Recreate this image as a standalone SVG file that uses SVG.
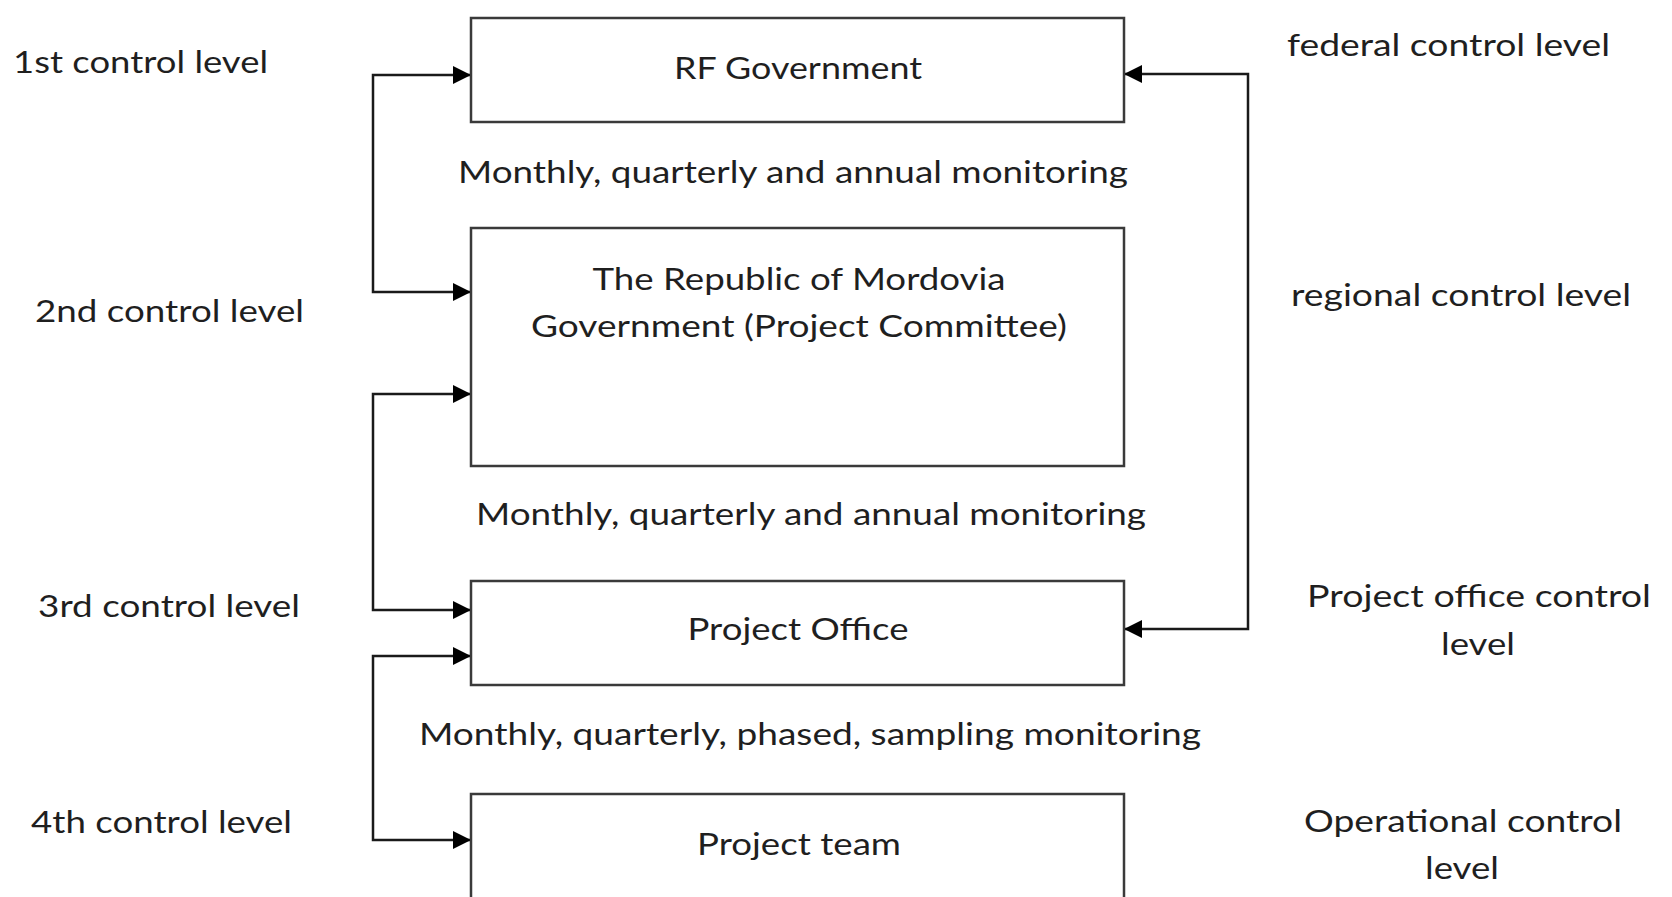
<svg xmlns="http://www.w3.org/2000/svg" width="1672" height="897" viewBox="0 0 1672 897">
<style>
.box{fill:#fff;stroke:#3a3a3a;stroke-width:2.5}
.t{font-family:Lato,"Open Sans","Liberation Sans",sans-serif;font-size:30px;fill:#1f1f1f}
.m{text-anchor:middle}
.c{fill:none;stroke:#1a1a1a;stroke-width:2.5}
</style>
<defs>
<marker id="ah" markerUnits="userSpaceOnUse" markerWidth="19" markerHeight="18" refX="18" refY="9" orient="auto-start-reverse">
<path d="M0,0 L18,9 L0,18 z" fill="#000"/>
</marker>
</defs>
<rect width="1672" height="897" fill="#fff"/>
<g id="connectors">
<path class="c" d="M471,75 H373 V292 H471" marker-start="url(#ah)" marker-end="url(#ah)"/>
<path class="c" d="M471,394 H373 V610 H471" marker-start="url(#ah)" marker-end="url(#ah)"/>
<path class="c" d="M471,656 H373 V840 H471" marker-start="url(#ah)" marker-end="url(#ah)"/>
<path class="c" d="M1124,74 H1248 V629 H1124" marker-start="url(#ah)" marker-end="url(#ah)"/>
</g>
<g id="rf-government">
<rect class="box" x="471" y="18" width="653" height="104"/>
<text class="t m" x="798" y="79" textLength="248" lengthAdjust="spacingAndGlyphs">RF Government</text>
</g>
<g id="mordovia">
<rect class="box" x="471" y="228" width="653" height="238"/>
<text class="t m" x="799" y="290" textLength="413" lengthAdjust="spacingAndGlyphs">The Republic of Mordovia</text>
<text class="t m" x="799" y="337" textLength="536" lengthAdjust="spacingAndGlyphs">Government (Project Committee)</text>
</g>
<g id="project-office">
<rect class="box" x="471" y="581" width="653" height="104"/>
<text class="t m" x="798" y="640" textLength="221" lengthAdjust="spacingAndGlyphs">Project Office</text>
</g>
<g id="project-team">
<rect class="box" x="471" y="794" width="653" height="120"/>
<text class="t m" x="799" y="855" textLength="204" lengthAdjust="spacingAndGlyphs">Project team</text>
</g>
<g id="monitoring-labels">
<text class="t" x="458" y="183" textLength="670" lengthAdjust="spacingAndGlyphs">Monthly, quarterly and annual monitoring</text>
<text class="t" x="476" y="525" textLength="670" lengthAdjust="spacingAndGlyphs">Monthly, quarterly and annual monitoring</text>
<text class="t" x="419" y="745" textLength="782" lengthAdjust="spacingAndGlyphs">Monthly, quarterly, phased, sampling monitoring</text>
</g>
<g id="left-levels">
<text class="t" x="13" y="73" textLength="255" lengthAdjust="spacingAndGlyphs">1st control level</text>
<text class="t" x="35" y="322" textLength="269" lengthAdjust="spacingAndGlyphs">2nd control level</text>
<text class="t" x="38" y="617" textLength="262" lengthAdjust="spacingAndGlyphs">3rd control level</text>
<text class="t" x="31" y="833" textLength="261" lengthAdjust="spacingAndGlyphs">4th control level</text>
</g>
<g id="right-levels">
<text class="t" x="1287" y="56" textLength="323" lengthAdjust="spacingAndGlyphs">federal control level</text>
<text class="t" x="1291" y="306" textLength="340" lengthAdjust="spacingAndGlyphs">regional control level</text>
<text class="t" x="1307" y="607" textLength="344" lengthAdjust="spacingAndGlyphs">Project office control</text>
<text class="t m" x="1478" y="655" textLength="74" lengthAdjust="spacingAndGlyphs">level</text>
<text class="t" x="1304" y="832" textLength="318" lengthAdjust="spacingAndGlyphs">Operational control</text>
<text class="t m" x="1462" y="879" textLength="74" lengthAdjust="spacingAndGlyphs">level</text>
</g>
</svg>
